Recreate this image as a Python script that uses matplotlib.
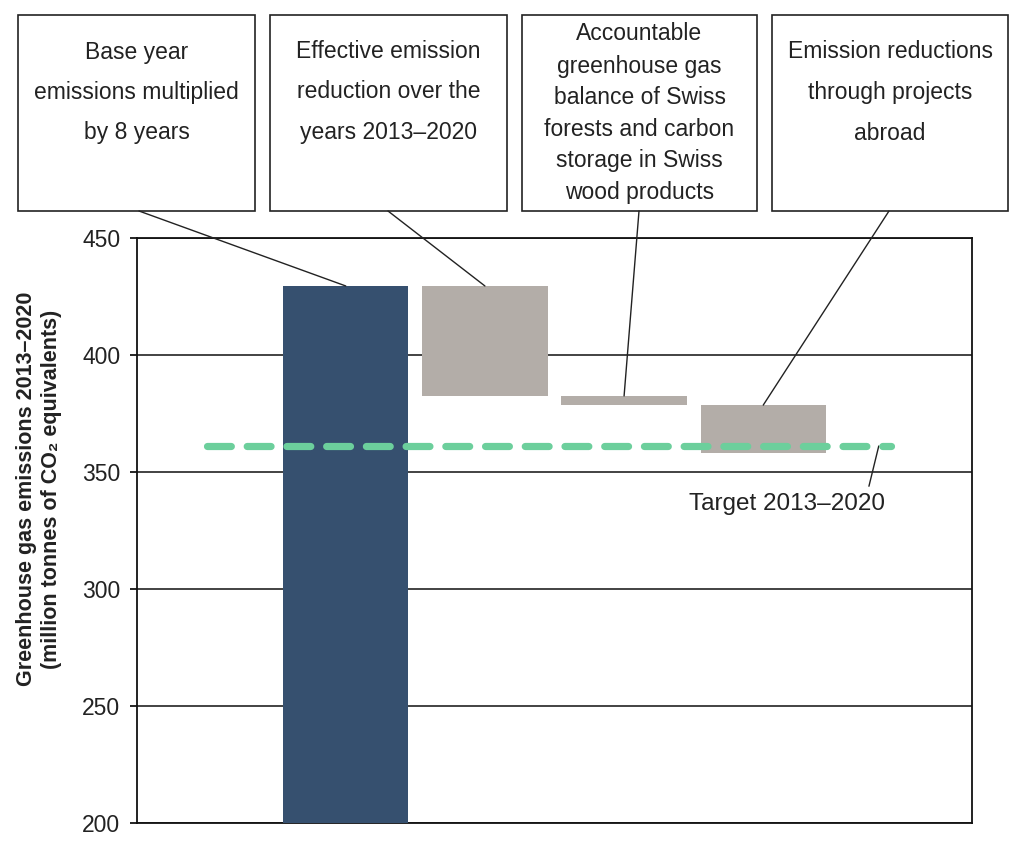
import numpy as np
import matplotlib as mpl
import matplotlib.pyplot as plt
from matplotlib.patches import Rectangle, ConnectionPatch

plt.rcParams['font.family'] = ['Liberation Sans', 'DejaVu Sans']

# Data
base_emissions = 429.5          # base year emissions x 8 years
reductions     = [47.0, 3.9, 20.5]
target         = 361.1
bar_pos        = [0, 1, 2, 3]
y_ticks        = [200, 250, 300, 350, 400, 450]

box_texts = [
    ['Base year', 'emissions multiplied', 'by 8 years'],
    ['Effective emission', 'reduction over the', 'years 2013\u20132020'],
    ['Accountable', 'greenhouse gas', 'balance of Swiss', 'forests and carbon',
     'storage in Swiss', 'wood products'],
    ['Emission reductions', 'through projects', 'abroad'],
]
target_label = 'Target 2013\u20132020'
y_label = 'Greenhouse gas emissions 2013\u20132020\n(million tonnes of CO\u2082 equivalents)'

# bar extents (waterfall)
tops    = [base_emissions]
bottoms = [0]
level   = base_emissions
for r in reductions:
    tops.append(level)
    bottoms.append(level - r)
    level -= r

navy  = '#36506f'
grey  = '#b3ada8'
green = '#6ccf9c'

W, H = 1024, 852
def px(x, y):
    return (x / W, 1 - y / H)

fig = plt.figure(figsize=(W / 100, H / 100), dpi=100)
ax = fig.add_axes([137 / W, 1 - 823 / H, (972 - 137) / W, (823 - 238) / H])

heights = [t - b for t, b in zip(tops, bottoms)]
colors  = [navy] + [grey] * len(reductions)
ax.bar(bar_pos, heights, bottom=bottoms, width=0.9, color=colors, zorder=3)

ax.plot([-1.0, 3.92], [target, target], color=green, lw=5.2,
        dashes=(3.3, 2.2), dash_capstyle='round', zorder=4)

ax.set_xlim(-1.5, 4.5)
ax.set_ylim(200, 450)
ax.set_yticks(y_ticks)
ax.set_xticks([])
ax.yaxis.grid(True, color='#222222', lw=1.2, zorder=0)
ax.set_axisbelow(True)
for spine in ax.spines.values():
    spine.set_linewidth(1.3)
    spine.set_color('#111111')
ax.tick_params(axis='y', length=5, width=1.2, pad=7, labelsize=16.5,
               labelcolor='#222222')

fig.text(39 / W, 1 - 489 / H, y_label, rotation=90, ha='center', va='center',
         fontsize=15.5, fontweight='bold', color='#222222', linespacing=1.3)

# Callout boxes
boxes   = [(18, 15, 255, 211), (270, 15, 507, 211), (522, 15, 757, 211), (772, 15, 1008, 211)]
anchors = [139, 388, 639, 889]
line_y  = [[52, 92, 133], [52, 92, 133], [33, 66, 98, 129, 161, 193], [52, 92, 133]]

for i, (x0, y0, x1, y1) in enumerate(boxes):
    fx, fy = px(x0, y1)
    fig.add_artist(Rectangle((fx, fy), (x1 - x0) / W, (y1 - y0) / H,
                             transform=fig.transFigure, fill=False,
                             edgecolor='#222222', lw=1.2))
    cx = (x0 + x1) / 2
    for txt, ty in zip(box_texts[i], line_y[i]):
        fig.text(cx / W, 1 - ty / H, txt, ha='center', va='center',
                 fontsize=16.5, color='#222222')
    con = ConnectionPatch(xyA=px(anchors[i], y1), coordsA=fig.transFigure,
                          xyB=(bar_pos[i], tops[i]), coordsB=ax.transData,
                          color='#222222', lw=1.0)
    fig.add_artist(con)

ax.annotate(target_label, xy=(3.83, target), xytext=(3.17, 336.3),
            ha='center', va='center', fontsize=17.5, color='#222222',
            arrowprops=dict(arrowstyle='-', color='#222222', lw=1.0,
                            relpos=(0.91, 1.0), shrinkA=3, shrinkB=0))

plt.savefig('out.png', dpi=100)
